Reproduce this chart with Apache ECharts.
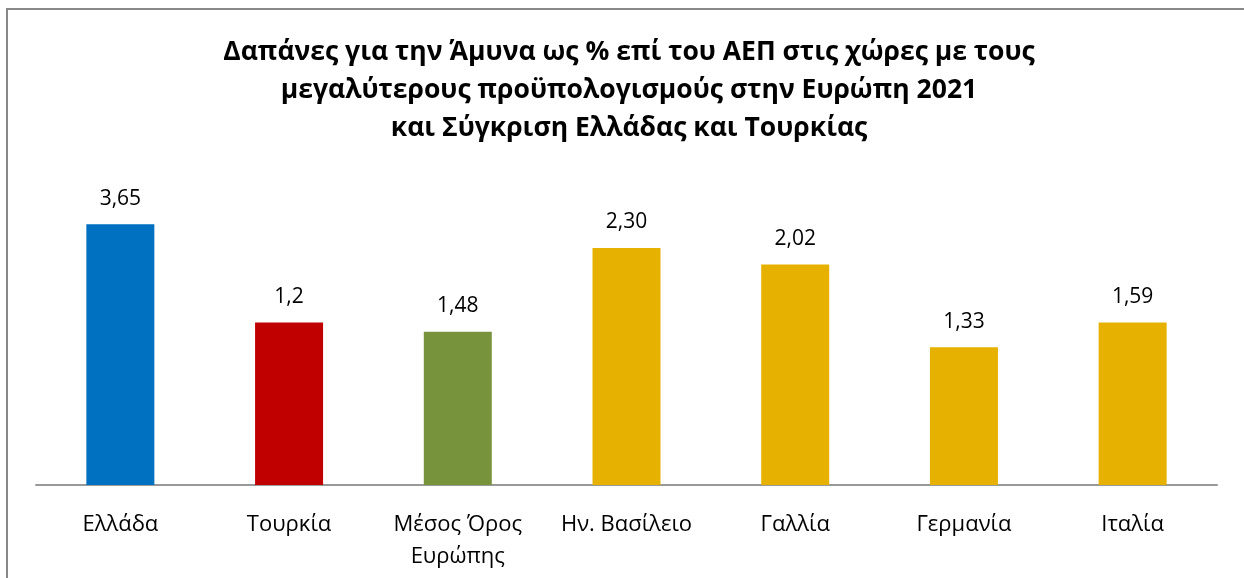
<!DOCTYPE html>
<html>
<head>
<meta charset="utf-8">
<script src="https://cdn.jsdelivr.net/npm/echarts@6/dist/echarts.min.js"></script>
<style>
html, body { margin: 0; padding: 0; background: #fff; }
#chart { width: 1244px; height: 578px; }
</style>
</head>
<body>
<div id="chart"></div>
<script>
// categories
var countries = ["Ελλάδα", "Τουρκία", "Μέσος Όρος\nΕυρώπης", "Ην. Βασίλειο", "Γαλλία", "Γερμανία", "Ιταλία"];
// bar heights as drawn in the picture
var barHeights = [2.52, 1.57, 1.48, 2.29, 2.13, 1.33, 1.57];
// labels printed above the bars
var labelTexts = ["3,65", "1,2", "1,48", "2,30", "2,02", "1,33", "1,59"];
var barColors = ["#0070C0", "#C00000", "#77933C", "#E6B100", "#E6B100", "#E6B100", "#E6B100"];

var chart = echarts.init(document.getElementById("chart"));

var seriesData = [];
for (let i = 0; i < barHeights.length; i++) {
    seriesData.push({
        value: barHeights[i],
        itemStyle: { color: barColors[i] },
        label: { formatter: labelTexts[i] }
    });
}

var option = {
    backgroundColor: "#fff",
    title: {
        text: "Δαπάνες για την Άμυνα ως % επί του ΑΕΠ στις χώρες με τους\nμεγαλύτερους προϋπολογισμούς στην Ευρώπη 2021\nκαι Σύγκριση Ελλάδας και Τουρκίας",
        left: 624,
        textAlign: "center",
        top: 28,
        textStyle: {
            fontFamily: "Open Sans",
            fontWeight: "bold",
            fontSize: 26.5,
            lineHeight: 38,
            color: "#000"
        }
    },
    graphic: [{
        type: "rect",
        shape: { x: 7, y: 9, width: 1400, height: 800 },
        style: { fill: null, stroke: "#888", lineWidth: 2 },
        silent: true
    }],
    grid: {
        left: 36,
        right: 27,
        top: 174.5,
        bottom: 93,
        containLabel: false
    },
    xAxis: {
        type: "category",
        data: countries,
        axisLine: { lineStyle: { color: "#999", width: 2 } },
        axisTick: { show: false },
        axisLabel: {
            margin: 24,
            interval: 0,
            fontFamily: "Open Sans",
            fontSize: 22,
            lineHeight: 32,
            color: "#000"
        }
    },
    yAxis: {
        type: "value",
        min: 0,
        max: 3,
        show: false,
        splitLine: { show: false }
    },
    series: [{
        type: "bar",
        data: seriesData,
        barWidth: 68,
        label: {
            show: true,
            position: "top",
            distance: 15,
            fontFamily: "Open Sans",
            fontSize: 21,
            color: "#000"
        }
    }]
};
chart.setOption(option);
</script>
</body>
</html>
